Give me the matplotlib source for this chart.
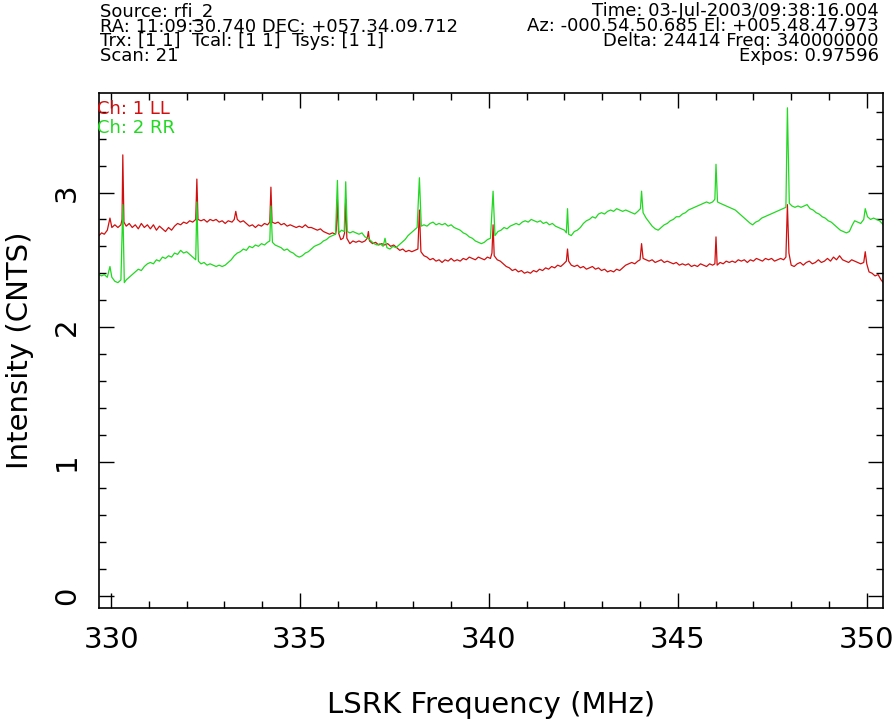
import matplotlib
matplotlib.use("Agg")
import matplotlib.pyplot as plt
from matplotlib.ticker import MultipleLocator

# Ch 1 LL (red)
freq_ll = [329.68, 329.75, 329.82, 329.90, 329.97, 330.02, 330.10, 330.18, 330.26, 330.29,
           330.31, 330.34, 330.40, 330.48, 330.56, 330.64, 330.72, 330.80, 330.88, 330.96,
           331.04, 331.12, 331.20, 331.28, 331.36, 331.44, 331.52, 331.60, 331.68, 331.76,
           331.84, 331.92, 332.00, 332.08, 332.16, 332.24, 332.27, 332.30, 332.38, 332.46,
           332.54, 332.62, 332.70, 332.78, 332.86, 332.94, 333.02, 333.10, 333.20, 333.26,
           333.30, 333.34, 333.42, 333.50, 333.58, 333.66, 333.74, 333.82, 333.90, 333.98,
           334.06, 334.14, 334.20, 334.23, 334.26, 334.34, 334.42, 334.50, 334.58, 334.66,
           334.74, 334.82, 334.90, 334.98, 335.06, 335.14, 335.22, 335.30, 335.38, 335.46,
           335.54, 335.62, 335.70, 335.78, 335.86, 335.94, 335.96, 335.99, 336.02, 336.08,
           336.14, 336.18, 336.21, 336.24, 336.32, 336.40, 336.48, 336.56, 336.64, 336.72,
           336.78, 336.81, 336.84, 336.92, 337.00, 337.08, 337.16, 337.24, 337.32, 337.40,
           337.48, 337.56, 337.64, 337.72, 337.80, 337.88, 337.96, 338.04, 338.12, 338.16,
           338.20, 338.28, 338.36, 338.44, 338.52, 338.60, 338.68, 338.76, 338.84, 338.92,
           339.00, 339.08, 339.16, 339.24, 339.32, 339.40, 339.48, 339.56, 339.64, 339.72,
           339.80, 339.88, 339.96, 340.04, 340.08, 340.11, 340.14, 340.22, 340.30, 340.38,
           340.46, 340.54, 340.62, 340.70, 340.78, 340.86, 340.94, 341.02, 341.10, 341.18,
           341.26, 341.34, 341.42, 341.50, 341.58, 341.66, 341.74, 341.82, 341.90, 341.98,
           342.05, 342.08, 342.11, 342.18, 342.26, 342.34, 342.42, 342.50, 342.58, 342.66,
           342.74, 342.82, 342.90, 342.98, 343.06, 343.14, 343.22, 343.30, 343.38, 343.46,
           343.54, 343.62, 343.70, 343.78, 343.86, 343.94, 344.00, 344.04, 344.08, 344.16,
           344.24, 344.32, 344.40, 344.48, 344.56, 344.64, 344.72, 344.80, 344.88, 344.96,
           345.04, 345.12, 345.20, 345.28, 345.36, 345.44, 345.52, 345.60, 345.68, 345.76,
           345.84, 345.92, 345.98, 346.01, 346.04, 346.12, 346.20, 346.28, 346.36, 346.44,
           346.52, 346.60, 346.68, 346.76, 346.84, 346.92, 347.00, 347.08, 347.16, 347.24,
           347.32, 347.40, 347.48, 347.56, 347.64, 347.72, 347.80, 347.86, 347.90, 347.94,
           348.00, 348.08, 348.16, 348.24, 348.32, 348.40, 348.48, 348.56, 348.64, 348.72,
           348.80, 348.88, 348.96, 349.04, 349.12, 349.20, 349.28, 349.36, 349.44, 349.52,
           349.60, 349.68, 349.76, 349.84, 349.92, 349.96, 350.00, 350.06, 350.14, 350.22,
           350.30, 350.38, 350.44]
int_ll = [2.68, 2.70, 2.69, 2.72, 2.81, 2.74, 2.76, 2.74, 2.76, 2.80,
          3.28, 2.78, 2.75, 2.77, 2.74, 2.76, 2.73, 2.77, 2.74, 2.76,
          2.73, 2.76, 2.72, 2.75, 2.73, 2.71, 2.74, 2.72, 2.75, 2.77,
          2.76, 2.78, 2.77, 2.79, 2.78, 2.80, 3.10, 2.80, 2.79, 2.80,
          2.78, 2.80, 2.79, 2.80, 2.78, 2.79, 2.77, 2.79, 2.78, 2.80,
          2.86, 2.80, 2.78, 2.79, 2.77, 2.75, 2.76, 2.74, 2.76, 2.75,
          2.77, 2.76, 2.78, 3.04, 2.78, 2.77, 2.78, 2.76, 2.77, 2.75,
          2.76, 2.75, 2.74, 2.75, 2.74, 2.76, 2.74, 2.74, 2.73, 2.72,
          2.73, 2.71, 2.70, 2.69, 2.70, 2.69, 2.72, 2.95, 2.70, 2.65,
          2.66, 2.70, 2.95, 2.66, 2.62, 2.64, 2.63, 2.64, 2.63, 2.64,
          2.66, 2.71, 2.64, 2.62, 2.63, 2.61, 2.62, 2.61, 2.62, 2.60,
          2.61, 2.59, 2.57, 2.58, 2.56, 2.57, 2.56, 2.57, 2.58, 2.87,
          2.56, 2.53, 2.52, 2.50, 2.51, 2.49, 2.50, 2.48, 2.50, 2.49,
          2.51, 2.49, 2.50, 2.49, 2.51, 2.50, 2.52, 2.51, 2.50, 2.52,
          2.51, 2.50, 2.52, 2.51, 2.55, 2.76, 2.53, 2.50, 2.49, 2.47,
          2.45, 2.44, 2.42, 2.43, 2.41, 2.42, 2.40, 2.41, 2.40, 2.42,
          2.41, 2.43, 2.42, 2.44, 2.43, 2.45, 2.44, 2.46, 2.45, 2.47,
          2.49, 2.58, 2.49, 2.46, 2.45, 2.46, 2.44, 2.45, 2.43, 2.44,
          2.45, 2.43, 2.44, 2.42, 2.43, 2.41, 2.42, 2.41, 2.43, 2.42,
          2.44, 2.46, 2.47, 2.48, 2.47, 2.49, 2.50, 2.62, 2.51, 2.50,
          2.49, 2.50, 2.48, 2.49, 2.50, 2.48, 2.49, 2.48, 2.47, 2.48,
          2.46, 2.47, 2.46, 2.47, 2.45, 2.46, 2.45, 2.47, 2.46, 2.45,
          2.47, 2.46, 2.47, 2.67, 2.46, 2.48, 2.47, 2.49, 2.48, 2.49,
          2.48, 2.50, 2.49, 2.50, 2.48, 2.50, 2.49, 2.51, 2.50, 2.49,
          2.51, 2.50, 2.51, 2.49, 2.50, 2.51, 2.50, 2.52, 2.91, 2.55,
          2.46, 2.45, 2.47, 2.48, 2.46, 2.48, 2.49, 2.47, 2.48, 2.50,
          2.48, 2.49, 2.51, 2.49, 2.52, 2.50, 2.53, 2.50, 2.49, 2.48,
          2.50, 2.49, 2.48, 2.47, 2.48, 2.56, 2.47, 2.41, 2.40, 2.38,
          2.39, 2.35, 2.33]

# Ch 2 RR (green)
freq_rr = [329.68, 329.75, 329.82, 329.90, 329.97, 330.02, 330.10, 330.18, 330.26, 330.31,
           330.35, 330.40, 330.48, 330.56, 330.64, 330.72, 330.80, 330.88, 330.96, 331.04,
           331.12, 331.20, 331.28, 331.36, 331.44, 331.52, 331.60, 331.68, 331.76, 331.84,
           331.92, 332.00, 332.08, 332.16, 332.24, 332.27, 332.31, 332.38, 332.46, 332.54,
           332.62, 332.70, 332.78, 332.86, 332.94, 333.02, 333.10, 333.18, 333.26, 333.34,
           333.42, 333.50, 333.58, 333.66, 333.74, 333.82, 333.90, 333.98, 334.06, 334.14,
           334.20, 334.23, 334.27, 334.34, 334.42, 334.50, 334.58, 334.66, 334.74, 334.82,
           334.90, 334.98, 335.06, 335.14, 335.22, 335.30, 335.38, 335.46, 335.54, 335.62,
           335.70, 335.78, 335.86, 335.94, 335.99, 336.03, 336.10, 336.17, 336.21, 336.25,
           336.32, 336.40, 336.48, 336.56, 336.64, 336.72, 336.80, 336.88, 336.96, 337.04,
           337.12, 337.20, 337.25, 337.30, 337.38, 337.46, 337.54, 337.62, 337.70, 337.78,
           337.86, 337.94, 338.02, 338.10, 338.16, 338.21, 338.28, 338.36, 338.44, 338.52,
           338.60, 338.68, 338.76, 338.84, 338.92, 339.00, 339.08, 339.16, 339.24, 339.32,
           339.40, 339.48, 339.56, 339.64, 339.72, 339.80, 339.88, 339.96, 340.04, 340.11,
           340.16, 340.24, 340.32, 340.40, 340.48, 340.56, 340.64, 340.72, 340.80, 340.88,
           340.96, 341.04, 341.12, 341.20, 341.28, 341.36, 341.44, 341.52, 341.60, 341.68,
           341.76, 341.84, 341.92, 342.00, 342.05, 342.08, 342.11, 342.18, 342.26, 342.34,
           342.42, 342.50, 342.58, 342.66, 342.74, 342.82, 342.90, 342.98, 343.06, 343.14,
           343.22, 343.30, 343.38, 343.46, 343.54, 343.62, 343.70, 343.78, 343.86, 343.94,
           344.01, 344.04, 344.08, 344.16, 344.24, 344.32, 344.40, 344.48, 344.56, 344.64,
           344.72, 344.80, 344.88, 344.96, 345.04, 345.12, 345.20, 345.28, 345.36, 345.44,
           345.52, 345.60, 345.68, 345.76, 345.84, 345.92, 345.98, 346.01, 346.05, 346.12,
           346.20, 346.28, 346.36, 346.44, 346.52, 346.60, 346.68, 346.76, 346.84, 346.92,
           346.98, 347.06, 347.14, 347.22, 347.30, 347.38, 347.46, 347.54, 347.62, 347.70,
           347.78, 347.86, 347.90, 347.95, 348.02, 348.10, 348.18, 348.26, 348.34, 348.42,
           348.50, 348.58, 348.66, 348.74, 348.82, 348.90, 348.98, 349.06, 349.14, 349.22,
           349.30, 349.38, 349.46, 349.54, 349.62, 349.68, 349.76, 349.84, 349.92, 349.96,
           350.02, 350.10, 350.18, 350.26, 350.34, 350.44]
int_rr = [2.39, 2.38, 2.39, 2.37, 2.45, 2.37, 2.34, 2.33, 2.35, 2.91,
          2.33, 2.35, 2.37, 2.39, 2.41, 2.43, 2.42, 2.45, 2.47, 2.48,
          2.47, 2.50, 2.49, 2.52, 2.51, 2.53, 2.52, 2.55, 2.54, 2.57,
          2.55, 2.56, 2.54, 2.52, 2.50, 2.93, 2.49, 2.47, 2.48, 2.46,
          2.47, 2.46, 2.45, 2.46, 2.45, 2.46, 2.48, 2.50, 2.53, 2.55,
          2.56, 2.58, 2.57, 2.60, 2.59, 2.61, 2.60, 2.62, 2.61, 2.63,
          2.64, 2.90, 2.63, 2.61, 2.60, 2.59, 2.57, 2.58, 2.56, 2.55,
          2.53, 2.52, 2.53, 2.55, 2.56, 2.58, 2.60, 2.61, 2.62, 2.64,
          2.65, 2.67, 2.68, 2.69, 3.09, 2.70, 2.72, 2.71, 3.08, 2.71,
          2.70, 2.71, 2.70, 2.69, 2.70, 2.67, 2.66, 2.64, 2.62, 2.61,
          2.62, 2.60, 2.66, 2.59, 2.58, 2.60, 2.59, 2.61, 2.63, 2.65,
          2.68, 2.70, 2.72, 2.74, 3.11, 2.75, 2.76, 2.75, 2.77, 2.78,
          2.76, 2.77, 2.76, 2.77, 2.75, 2.76, 2.74, 2.73, 2.72, 2.70,
          2.69, 2.67, 2.66, 2.64, 2.63, 2.62, 2.63, 2.65, 2.66, 3.01,
          2.68, 2.71, 2.72, 2.74, 2.73, 2.75, 2.76, 2.77, 2.76, 2.78,
          2.79, 2.78, 2.80, 2.79, 2.78, 2.79, 2.77, 2.78, 2.76, 2.77,
          2.75, 2.74, 2.73, 2.72, 2.70, 2.88, 2.69, 2.68, 2.71, 2.72,
          2.74, 2.77, 2.79, 2.80, 2.82, 2.81, 2.84, 2.85, 2.84, 2.86,
          2.87, 2.86, 2.88, 2.87, 2.86, 2.87, 2.86, 2.85, 2.84, 2.86,
          2.88, 3.01, 2.85, 2.81, 2.78, 2.75, 2.73, 2.72, 2.74, 2.76,
          2.77, 2.79, 2.80, 2.82, 2.82, 2.84, 2.85, 2.87, 2.88, 2.89,
          2.90, 2.91, 2.92, 2.93, 2.92, 2.93, 2.95, 3.21, 2.93, 2.92,
          2.91, 2.90, 2.89, 2.88, 2.87, 2.85, 2.83, 2.81, 2.79, 2.77,
          2.76, 2.78, 2.79, 2.81, 2.82, 2.83, 2.84, 2.85, 2.86, 2.87,
          2.88, 2.89, 3.63, 2.92, 2.90, 2.89, 2.90, 2.89, 2.90, 2.91,
          2.88, 2.87, 2.85, 2.84, 2.82, 2.81, 2.79, 2.78, 2.76, 2.74,
          2.72, 2.71, 2.70, 2.71, 2.76, 2.79, 2.78, 2.77, 2.80, 2.88,
          2.82, 2.80, 2.81, 2.80, 2.79, 2.76]

header_left = ["Source: rfi_2",
               "RA: 11:09:30.740 DEC: +057.34.09.712",
               "Trx: [1 1]  Tcal: [1 1]  Tsys: [1 1]",
               "Scan: 21"]
header_right = ["Time: 03-Jul-2003/09:38:16.004",
                "Az: -000.54.50.685 El: +005.48.47.973",
                "Delta: 24414 Freq: 340000000",
                "Expos: 0.97596"]

red = '#d01010'
green = '#22d822'
W, H = 895, 724

fig = plt.figure(figsize=(W / 100, H / 100), dpi=100)
ax = fig.add_axes([99 / W, 1 - 608 / H, (883 - 99) / W, (608 - 93) / H])

ax.plot(freq_ll, int_ll, color=red, lw=0.9)
ax.plot(freq_rr, int_rr, color=green, lw=0.9)

ax.set_xlim(329.68, 350.43)
ax.set_ylim(-0.089, 3.74)
ax.xaxis.set_major_locator(MultipleLocator(5))
ax.xaxis.set_minor_locator(MultipleLocator(1))
ax.yaxis.set_major_locator(MultipleLocator(1))
ax.yaxis.set_minor_locator(MultipleLocator(0.2))
ax.tick_params(which='both', direction='in', top=True, right=True, width=1.0, colors='black')
ax.tick_params(which='major', length=11)
ax.tick_params(which='minor', length=5)
ax.tick_params(axis='x', labelsize=21, pad=13)
ax.tick_params(axis='y', labelsize=21, pad=13)
for lab in ax.get_yticklabels():
    lab.set_rotation(90)
    lab.set_va('center')
for sp in ax.spines.values():
    sp.set_linewidth(1.2)

fig.text(491 / W, 1 - 705 / H, "LSRK Frequency (MHz)", fontsize=21,
         ha='center', va='center')
fig.text(20 / W, 1 - 350 / H, "Intensity (CNTS)", fontsize=21,
         rotation=90, ha='center', va='center')

# header block: one text per side so the lines sit close like the original
fig.text(100 / W, 1 - 2.5 / H, "\n".join(header_left), fontsize=13,
         ha='left', va='top', linespacing=0.77)
fig.text(879 / W, 1 - 2.5 / H, "\n".join(header_right), fontsize=13,
         ha='right', va='top', linespacing=0.77, multialignment='right')

fig.text(97 / W, 1 - 107 / H, "Ch: 1 LL", color=red, fontsize=13,
         ha='left', va='center_baseline')
fig.text(97 / W, 1 - 126 / H, "Ch: 2 RR", color=green, fontsize=13,
         ha='left', va='center_baseline')

fig.savefig("out.png", dpi=100)
